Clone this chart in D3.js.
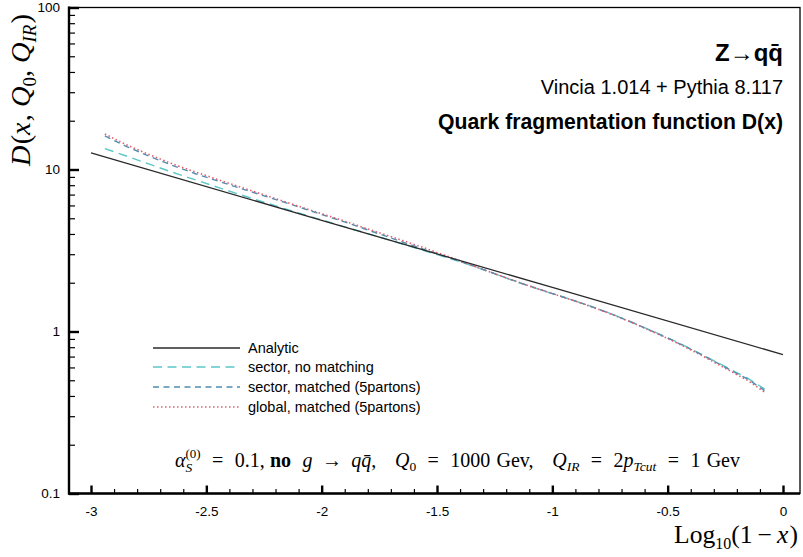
<!DOCTYPE html>
<html><head><meta charset="utf-8">
<script src="https://cdn.jsdelivr.net/npm/d3@7"></script>
<style>body{margin:0;background:#fff}svg{display:block}text{white-space:pre}</style>
</head><body><svg id="c" width="803" height="557"></svg>
<script>
// ---------------- DATA ----------------
const xMC = [-2.94,-2.85,-2.75,-2.65,-2.55,-2.45,-2.35,-2.25,-2.15,-2.05,-1.95,-1.85,-1.75,-1.65,-1.55,-1.45,-1.35,-1.25,-1.15,-1.05,-0.95,-0.85,-0.75,-0.65,-0.55,-0.45,-0.35,-0.25,-0.15,-0.08];
const sectorNoMatching = [13.46,12.16,10.82,9.65,8.66,7.76,6.97,6.28,5.67,5.13,4.65,4.22,3.83,3.47,3.14,2.84,2.555,2.27,2.015,1.806,1.627,1.461,1.295,1.134,0.985,0.849,0.720,0.606,0.512,0.442];
const sectorMatched    = [16.1,13.96,12.12,10.64,9.45,8.49,7.63,6.88,6.20,5.57,5.00,4.49,4.00,3.57,3.19,2.86,2.56,2.275,2.02,1.81,1.627,1.458,1.292,1.132,0.980,0.843,0.715,0.601,0.505,0.432];
const globalMatched    = [16.56,14.28,12.40,10.88,9.67,8.67,7.77,6.98,6.27,5.63,5.06,4.54,4.07,3.65,3.26,2.90,2.57,2.275,2.02,1.806,1.623,1.455,1.289,1.127,0.976,0.837,0.708,0.592,0.496,0.422];
const xAnalytic = [-3,-2,-1,0];
const analytic  = [12.65,4.86,1.87,0.72];
const seriesNames = ["Analytic","sector, no matching","sector, matched (5partons)","global, matched (5partons)"];
const xTickValues = [-3,-2.5,-2,-1.5,-1,-0.5,0];
const xTickLabels = ["-3","-2.5","-2","-1.5","-1","-0.5","0"];
const yTickValues = [0.1,1,10,100];
const yTickLabels = ["0.1","1","10","100"];

// ---------------- LAYOUT ----------------
const svg = d3.select("#c");
const L = 69, R = 800, T = 7.5, B = 493.5;
const x = d3.scaleLinear().domain([-3,0]).range([91,783]);
const y = d3.scaleLog().domain([0.1,100]).range([B,T]);
const sans = "Liberation Sans, Arial, Helvetica, sans-serif";
const serif = "Liberation Serif, Times New Roman, serif";

const styles = [
  {color:"#2a2a2a", dash:null, w:1.3},
  {color:"#5cc6c8", dash:"9,5.5", w:1.4},
  {color:"#4f8db3", dash:"6,4.5", w:1.4},
  {color:"#e0606f", dash:"1.5,2.5", w:1.6}
];

svg.append("rect").attr("x",L).attr("y",T).attr("width",R-L).attr("height",B-T)
  .attr("fill","none").attr("stroke","#000").attr("stroke-width",1.3);

svg.append("clipPath").attr("id","clip").append("rect").attr("x",L).attr("y",T).attr("width",R-L).attr("height",B-T);
const plot = svg.append("g").attr("clip-path","url(#clip)");

const line = d3.line().x(d=>x(d[0])).y(d=>y(d[1]));
const allSeries = [
  d3.zip(xAnalytic, analytic),
  d3.zip(xMC, sectorNoMatching),
  d3.zip(xMC, sectorMatched),
  d3.zip(xMC, globalMatched)
];
[1,2,3,0].forEach(i=>{
  plot.append("path").datum(allSeries[i]).attr("d",line)
    .attr("fill","none").attr("stroke",styles[i].color).attr("stroke-width",styles[i].w)
    .attr("stroke-dasharray",styles[i].dash);
});

// Y axis
const yMinor = [];
[0.1,1,10].forEach(dec=>{ for(let k=2;k<=9;k++) yMinor.push(dec*k); });
const yMinorAxis = svg.append("g").attr("transform",`translate(${L},0)`)
  .call(d3.axisLeft(y).tickValues(yMinor).tickSize(-6).tickFormat(""));
yMinorAxis.select(".domain").remove();
yMinorAxis.selectAll("line").attr("stroke-width",1.2);
const yMajorAxis = svg.append("g").attr("transform",`translate(${L},0)`)
  .call(d3.axisLeft(y).tickValues(yTickValues).tickSize(-10).tickPadding(9).tickFormat((d,i)=>yTickLabels[i]));
yMajorAxis.select(".domain").remove();
yMajorAxis.selectAll("line").attr("stroke-width",2.4);
yMajorAxis.selectAll("text").attr("font-family",sans).attr("font-size",13.5).attr("fill","#000");

// X axis
const xMinor = d3.range(-30,1).map(v=>v/10).filter(v=>Math.abs(v*2-Math.round(v*2))>1e-6);
const xMinorAxis = svg.append("g").attr("transform",`translate(0,${B})`)
  .call(d3.axisBottom(x).tickValues(xMinor).tickSize(-4.5).tickFormat(""));
xMinorAxis.select(".domain").remove();
xMinorAxis.selectAll("line").attr("stroke-width",1.2);
const xMajorAxis = svg.append("g").attr("transform",`translate(0,${B})`)
  .call(d3.axisBottom(x).tickValues(xTickValues).tickSize(-8).tickPadding(13).tickFormat((d,i)=>xTickLabels[i]));
xMajorAxis.select(".domain").remove();
xMajorAxis.selectAll("line").attr("stroke-width",2.4);
xMajorAxis.selectAll("text").attr("font-family",sans).attr("font-size",13.5).attr("fill","#000");

svg.append("line").attr("x1",L).attr("x2",L).attr("y1",T-1).attr("y2",B+1).attr("stroke","#000").attr("stroke-width",2.4);
svg.append("line").attr("x1",L-1).attr("x2",R).attr("y1",B).attr("y2",B).attr("stroke","#000").attr("stroke-width",2.4);

// ---------------- rich text helper ----------------
// segments: {t,...} text, {stack:[...]} stacked sub/sup, {sp:w} flexible space
function layout(g, segs, base, fam, k, width){
  const items = [];
  segs.forEach(s=>{
    if (s.sp !== undefined){ items.push({sp:s.sp, w:0, els:[]}); return; }
    const parts = s.stack || [s];
    let w = 0; const els = [];
    parts.forEach(p=>{
      const t = g.append("text").text(p.t)
        .attr("font-family", p.family || fam)
        .attr("font-size", (p.size || base)*k)
        .attr("font-style", p.it ? "italic" : "normal")
        .attr("font-weight", p.bold ? "bold" : "normal")
        .attr("fill","#000")
        .attr("y", (p.dy || 0)*k);
      els.push(t);
      w = Math.max(w, t.node().getComputedTextLength() + (p.pad||0)*k);
    });
    items.push({els, w});
  });
  const natural = d3.sum(items, d=>d.w);
  const spW = d3.sum(items, d=>d.sp||0);
  const unit = (width && spW>0) ? Math.max(0,(width-natural)/spW) : 0;
  let cx = 0;
  items.forEach(it=>{ it.els.forEach(e=>e.attr("x",cx)); cx += it.w + (it.sp||0)*unit; });
  return {total:cx, natural, spW};
}
function rich(parent, segs, opts){
  const g = parent.append("g");
  const fam = opts.family || serif;
  let r = layout(g, segs, opts.size, fam, 1, opts.flex ? opts.width : 0);
  if (opts.width && !opts.flex){
    const k = opts.width/r.total;
    g.selectAll("*").remove();
    r = layout(g, segs, opts.size, fam, k, 0);
  }
  const total = r.total;
  const tx = opts.anchor==="end" ? -total : opts.anchor==="middle" ? -total/2 : 0;
  g.attr("transform", `${opts.transform||""} translate(${tx},0)`);
  return g;
}

// Y axis title (rotated)
rich(svg, [
  {t:"D", it:true, pad:1},{t:"("},{t:"x", it:true, pad:1},{t:", "},{t:"Q", it:true},{t:"0", size:16, dy:5},
  {t:", "},{t:"Q", it:true},{t:"IR", it:true, size:16, dy:5, pad:1},{t:")"}
], {size:24, anchor:"middle", width:152, transform:"translate(30,90) rotate(-90)"});

// X axis title
rich(svg, [
  {t:"Log"},{t:"10", size:15, dy:6},{t:"(1\u2009−\u2009"},{t:"x", it:true, pad:1},{t:")"}
], {size:24, anchor:"end", width:124, transform:"translate(798,543)"});

// Annotation formula
rich(svg, [
  {t:"α", it:true},
  {stack:[{t:"(0)", size:13, dy:-9},{t:"S", it:true, size:13.5, dy:5}]},
  {sp:1.1},{t:"="},{sp:1.1},{t:"0.1,"},{sp:0.5},{t:"no", bold:true},{sp:1.1},
  {t:"g", it:true},{sp:0.9},{t:"→"},{sp:0.9},{t:"q", it:true},{t:"q\u0304", it:true},{t:","},{sp:1.8},
  {t:"Q", it:true},{t:"0", size:13.5, dy:4},{sp:1.1},{t:"="},{sp:1.1},{t:"1000"},{sp:0.6},{t:"Gev,"},{sp:1.8},
  {t:"Q", it:true},{t:"IR", it:true, size:13.5, dy:4},{sp:1.1},{t:"="},{sp:1.1},{t:"2"},{t:"p", it:true},
  {t:"Tcut", it:true, size:13.5, dy:4},{sp:1.1},{t:"="},{sp:1.1},{t:"1"},{sp:0.6},{t:"Gev"}
], {size:20, anchor:"start", width:565, flex:true, transform:"translate(175,467)"});

// Titles
svg.append("text").attr("x",783).attr("y",61).attr("text-anchor","end")
  .attr("font-family",sans).attr("font-weight","bold").attr("font-size",24).text("Z→qq\u0304");
svg.append("text").attr("x",783).attr("y",94).attr("text-anchor","end")
  .attr("font-family",sans).attr("font-size",20).text("Vincia 1.014 + Pythia 8.117");
svg.append("text").attr("x",783).attr("y",129).attr("text-anchor","end")
  .attr("font-family",sans).attr("font-weight","bold").attr("font-size",21.2).text("Quark fragmentation function D(x)");

// Legend
const legY = [348,367,387,407];
const leg = svg.append("g");
seriesNames.forEach((name,i)=>{
  leg.append("line").attr("x1",153).attr("x2",240).attr("y1",legY[i]).attr("y2",legY[i])
    .attr("stroke",styles[i].color).attr("stroke-width",styles[i].w).attr("stroke-dasharray",styles[i].dash);
  leg.append("text").attr("x",248).attr("y",legY[i]).attr("dy","0.35em")
    .attr("font-family",sans).attr("font-size",14.5).text(name);
});
</script></body></html>
